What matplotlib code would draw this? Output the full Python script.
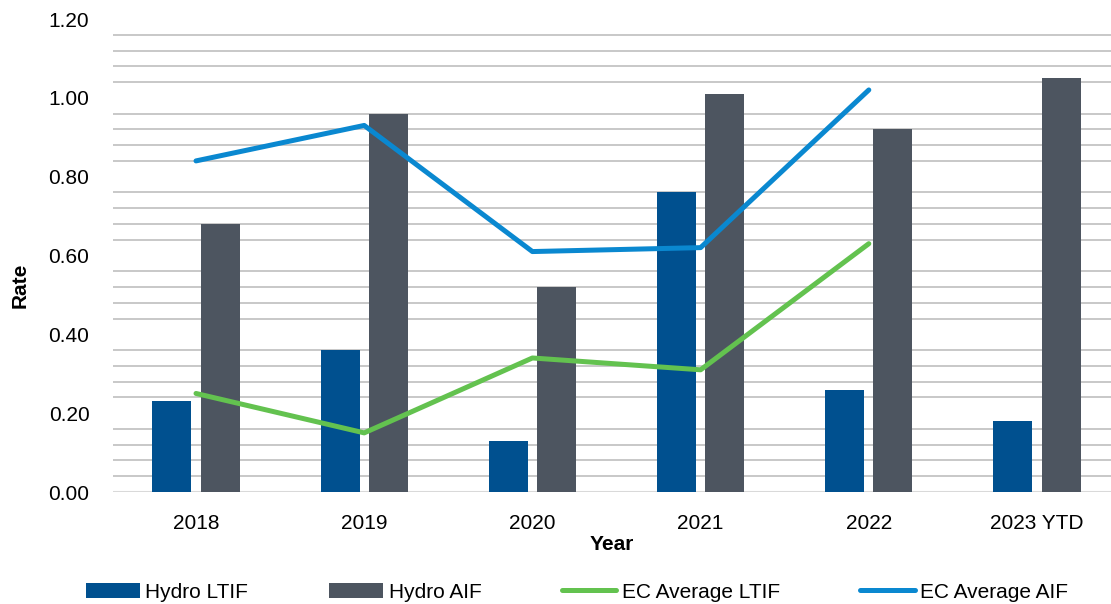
import matplotlib
matplotlib.use("Agg")
import matplotlib.pyplot as plt
from matplotlib.ticker import MultipleLocator, FormatStrFormatter
import numpy as np

years = ["2018", "2019", "2020", "2021", "2022", "2023 YTD"]
hydro_ltif = [0.23, 0.36, 0.13, 0.76, 0.26, 0.18]
hydro_aif = [0.68, 0.96, 0.52, 1.01, 0.92, 1.05]
ec_avg_ltif = [0.25, 0.15, 0.34, 0.31, 0.63]
ec_avg_aif = [0.84, 0.93, 0.61, 0.62, 1.02]

plt.rcParams["font.family"] = ["Liberation Sans", "DejaVu Sans"]
plt.rcParams["font.size"] = 15

fig = plt.figure(figsize=(11.11, 6.04), dpi=100)
ax = fig.add_axes([113 / 1111, 1 - 492 / 604, 1 - 113 / 1111, (492 - 19) / 604])

x = np.arange(len(years))
w = 0.232
b1 = ax.bar(x - 0.143, hydro_ltif, w, color="#00508F", label="Hydro LTIF", zorder=3)
b2 = ax.bar(x + 0.143, hydro_aif, w, color="#4D5560", label="Hydro AIF", zorder=3)

xl = np.arange(len(ec_avg_ltif))
l1, = ax.plot(xl, ec_avg_ltif, color="#63C24F", lw=3.6, solid_capstyle="round",
              label="EC Average LTIF", zorder=4)
l2, = ax.plot(xl, ec_avg_aif, color="#0A88D0", lw=3.6, solid_capstyle="round",
              label="EC Average AIF", zorder=4)

ax.set_ylim(0, 1.2)
ax.set_xlim(-0.4935, (1111 - 196) / 168.2)
ax.yaxis.set_major_locator(MultipleLocator(0.2))
ax.yaxis.set_minor_locator(MultipleLocator(0.04))
ax.yaxis.set_major_formatter(FormatStrFormatter("%.2f"))
ax.grid(which="minor", axis="y", color="#BFBFBF", lw=1.2, zorder=0)
ax.axhline(0, color="#D9D9D9", lw=1.5, zorder=2)

ax.set_xticks(x)
ax.set_xticklabels(years)
ax.tick_params(axis="both", which="both", length=0)
ax.tick_params(axis="y", pad=17)
ax.tick_params(axis="x", pad=16)
for s in ax.spines.values():
    s.set_visible(False)

ax.set_xlabel("Year", fontweight="bold", labelpad=1)
fig.text(20 / 1111, 1 - 285 / 604, "Rate", rotation=90, fontweight="bold",
         ha="center", va="center")

fig.legend([b1, b2, l1, l2], [h.get_label() for h in (b1, b2, l1, l2)],
           loc="center", bbox_to_anchor=(577 / 1111, 1 - 592 / 604), ncol=4,
           frameon=False, handlelength=2.6, handletextpad=0.25,
           columnspacing=3.88, handleheight=0.7)

fig.savefig("out.png", dpi=100)
